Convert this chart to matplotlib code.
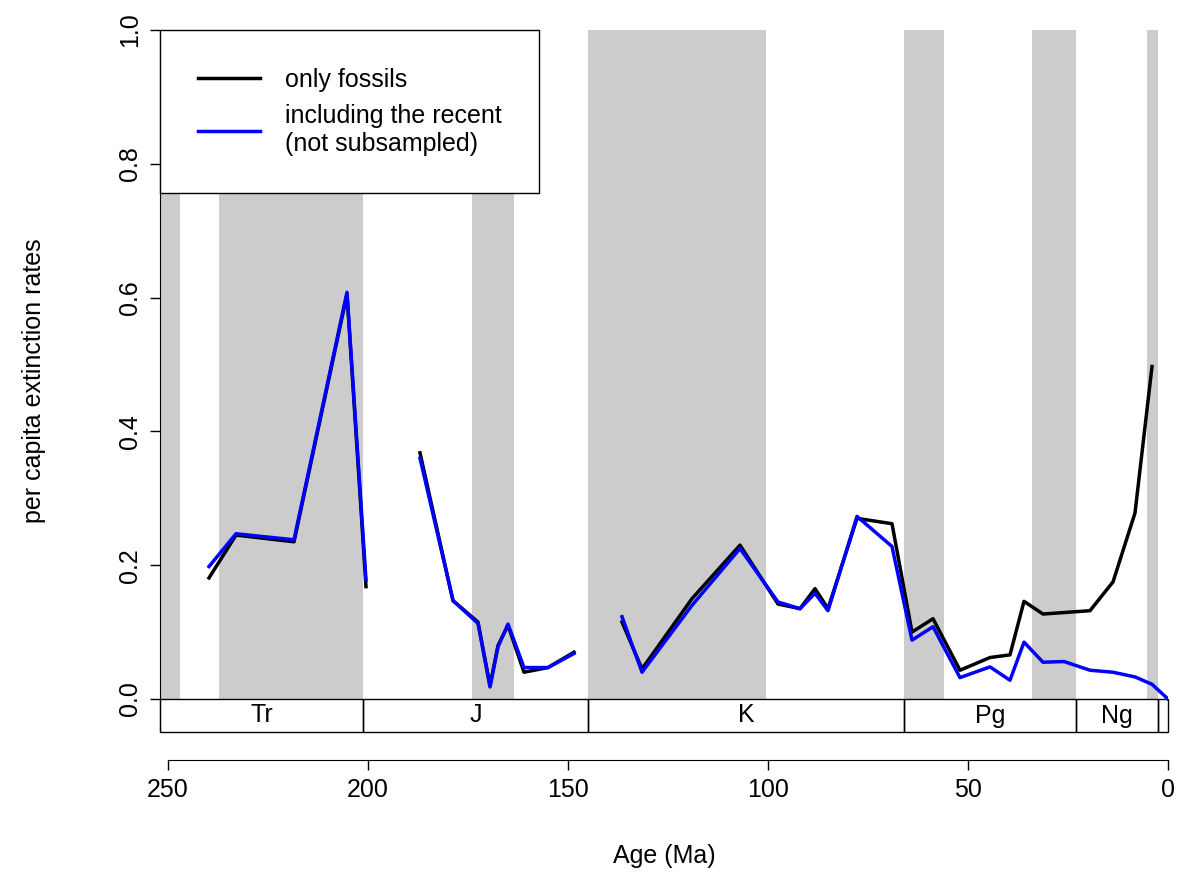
import matplotlib.pyplot as plt
import matplotlib.patches as mpatches
import numpy as np

# gray stage bands (Ma)
bands = [(252, 247), (237.2, 201.3), (174.1, 163.5), (145, 100.5), (66, 56), (33.9, 23), (5.3, 2.6)]
periods = [("Tr", 252, 201.3), ("J", 201.3, 145), ("K", 145, 66), ("Pg", 66, 23), ("Ng", 23, 2.6), ("", 2.6, 0)]

# black: only fossils (segments)
fos_x = [[239.75, 233, 218.5, 205.25, 200.5],
         [187, 178.75, 172.5, 169.5, 167.5, 165, 161, 155, 148.5],
         [136.5, 131.5, 119, 107, 97.5, 92, 88.25, 85, 77.75, 69, 64, 58.75, 52, 44.5, 39.5, 36, 31.25, 19.5, 13.75, 8.25, 4]]
fos_y = [[0.181, 0.245, 0.235, 0.605, 0.168],
         [0.368, 0.147, 0.115, 0.02, 0.08, 0.11, 0.04, 0.047, 0.07],
         [0.115, 0.045, 0.15, 0.23, 0.142, 0.135, 0.165, 0.135, 0.27, 0.262, 0.1, 0.12, 0.043, 0.062, 0.066, 0.146, 0.127, 0.132, 0.175, 0.278, 0.497]]
# blue: including the recent
rec_x = [[239.75, 233, 218.5, 205.25, 200.5],
         [187, 178.75, 172.5, 169.5, 167.5, 165, 161, 155, 148.5],
         [136.5, 131.5, 119, 107, 97.5, 92, 88.25, 85, 77.75, 69, 64, 58.75, 52, 44.5, 39.5, 36, 31.25, 26, 19.5, 13.75, 8.25, 4, 0]]
rec_y = [[0.198, 0.247, 0.238, 0.608, 0.178],
         [0.36, 0.147, 0.113, 0.018, 0.078, 0.112, 0.047, 0.047, 0.068],
         [0.123, 0.04, 0.14, 0.225, 0.145, 0.135, 0.158, 0.132, 0.273, 0.228, 0.088, 0.108, 0.032, 0.048, 0.028, 0.085, 0.055, 0.056, 0.043, 0.04, 0.033, 0.022, 0.0]]

plt.rcParams['font.family'] = 'Liberation Sans'
fig = plt.figure(figsize=(11.78, 8.86), dpi=100)
ax = fig.add_axes([160/1178, 1-732/886, 1008/1178, 702/886])
ybot = -33/669
ax.set_xlim(252, 0)
ax.set_ylim(ybot, 1.0)

for a, b in bands:
    ax.axvspan(b, a, ymin=-ybot/(1-ybot), ymax=1, color='#cccccc', lw=0, zorder=0)
for name, a, b in periods:
    ax.add_patch(mpatches.Rectangle((b, ybot), a-b, -ybot, fill=False, ec='black', lw=1, zorder=3, clip_on=False))
    ax.text((a+b)/2, ybot/2, name, ha='center', va='center', fontsize=18)

for i, (xs, ys) in enumerate(zip(fos_x, fos_y)):
    ax.plot(xs, ys, color='black', lw=2.5, label='only fossils' if i == 0 else None, zorder=4)
for i, (xs, ys) in enumerate(zip(rec_x, rec_y)):
    ax.plot(xs, ys, color='#0000ff', lw=2.5, label='including the recent\n(not subsampled)' if i == 0 else None, zorder=5)

ax.spines['top'].set_visible(False)
ax.spines['right'].set_visible(False)
ax.spines['bottom'].set_position(('outward', 20))
ax.spines['bottom'].set_bounds(250, 0)
ax.set_xticks([250, 200, 150, 100, 50, 0])
ax.set_yticks([0, 0.2, 0.4, 0.6, 0.8, 1.0])
ax.set_yticklabels(['0.0', '0.2', '0.4', '0.6', '0.8', '1.0'], rotation=90, va='center')
ax.tick_params(labelsize=18, length=7, width=1, pad=6)
ax.set_xlabel('Age (Ma)', fontsize=18, labelpad=30)
ax.set_ylabel('per capita extinction rates', fontsize=18, labelpad=52)

leg = ax.legend(loc='upper left', bbox_to_anchor=(0, 1), fontsize=18, frameon=True, fancybox=False,
                edgecolor='black', framealpha=1, borderaxespad=0, handlelength=2.5, borderpad=1.5,
                labelspacing=0.5, handletextpad=1.0)
leg.get_frame().set_linewidth(1)
leg.set_zorder(10)

fig.savefig('out.png', dpi=100)
